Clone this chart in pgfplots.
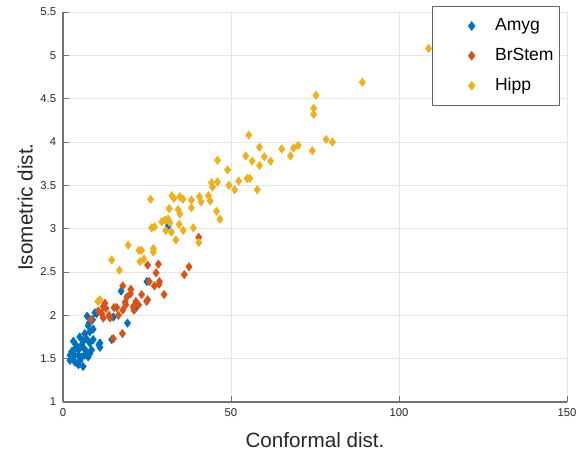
\documentclass[border=0pt]{standalone}
\usepackage{fontspec}
\setmainfont{Liberation Sans}
\usepackage{pgfplots}
\pgfplotsset{compat=1.18}

\definecolor{cAmyg}{RGB}{0,114,189}
\definecolor{cBrStem}{RGB}{217,83,25}
\definecolor{cHipp}{RGB}{237,177,32}

\begin{document}
\begin{tikzpicture}
\useasboundingbox (-32.3pt,-30.3pt) rectangle (267.8pt,206.2pt);
\begin{axis}[
  scale only axis,
  width=258.6pt, height=200pt,
  xmin=0, xmax=150, ymin=1, ymax=5.5,
  xtick={0,50,100,150},
  ytick={1,1.5,...,5.5},
  axis lines*=left,
  axis line style={black!55, line width=0.6pt},
  tick style={black!55, line width=0.5pt},
  tick align=inside,
  major tick length=3pt,
  grid=major,
  grid style={black!10, line width=0.5pt},
  /pgf/number format/assume math mode=true,
  tick label style={font=\fontsize{5.8}{7}\selectfont, text=black!85},
  xlabel={Conformal dist.},
  ylabel={Isometric dist.},
  label style={font=\fontsize{10.6}{12}\selectfont, text=black!85},
  xlabel style={at={(axis description cs:0.5,-0.097)}, anchor=center},
  ylabel style={at={(axis description cs:-0.075,0.5)}, anchor=center},
  legend style={at={(0.986,1.015)}, anchor=north east,
    draw=black!60, line width=0.6pt, fill=white,
    font=\fontsize{9}{10}\selectfont,
    inner xsep=1pt, inner ysep=4pt,
    row sep=3.5pt,
    nodes={inner sep=2pt}},
  legend cell align=left,
  legend image code/.code={%
    \path[draw=none, fill=none] (-19pt,0pt) -- (10pt,0pt);
    \draw plot coordinates {(0pt,0pt)};},
  every axis plot/.append style={only marks, mark=diamond*, mark size=2.05pt},
]
\addplot[cAmyg, mark options={draw=cAmyg, fill=cAmyg}] table {
x y
3.1 1.70
3.6 1.62
4.6 1.60
2.6 1.58
2.1 1.54
3.1 1.52
4.6 1.54
5.6 1.52
6.5 1.54
8.0 1.56
7.0 1.58
7.5 1.52
2.1 1.48
3.6 1.46
5.1 1.48
4.6 1.43
6.0 1.41
5.6 1.66
6.0 1.70
7.0 1.73
6.5 1.79
8.0 1.81
9.0 1.84
7.8 1.91
7.2 1.99
9.5 2.03
10.0 2.02
8.0 1.68
9.0 1.72
11.0 1.68
11.0 1.63
10.7 1.66
14.5 1.72
15.0 1.98
19.2 1.91
21.4 2.07
17.3 2.28
25.0 2.39
31.3 3.03
4.0 1.65
5.0 1.75
6.2 1.62
8.5 1.60
3.0 1.56
7.5 1.88
8.8 1.95
};
\addplot[cBrStem, mark options={draw=cBrStem, fill=cBrStem}] table {
x y
25.2 2.58
28.4 2.59
27.7 2.49
37.5 2.56
36.1 2.47
25.7 2.39
28.7 2.39
27.2 2.34
28.6 2.36
30.1 2.24
17.8 2.34
20.2 2.30
20.1 2.25
19.0 2.21
23.4 2.24
25.2 2.18
21.7 2.16
18.7 2.12
15.2 2.09
16.0 2.09
12.8 2.08
20.9 2.10
21.1 2.06
17.8 2.06
12.5 2.14
12.0 2.10
18.5 2.15
24.9 2.16
13.7 2.00
14.0 1.97
8.3 1.95
10.5 2.05
12.0 1.97
17.7 1.79
15.0 1.73
40.4 2.90
11.5 2.02
16.5 2.00
22.5 2.12
};
\addplot[cHipp, mark options={draw=cHipp, fill=cHipp}] table {
x y
108.8 5.08
89.1 4.69
75.3 4.54
74.6 4.39
74.6 4.32
78.3 4.03
80.2 4.00
74.2 3.90
70.0 3.96
68.6 3.93
67.7 3.84
65.1 3.92
55.3 4.08
58.5 3.94
54.4 3.84
59.9 3.83
56.3 3.78
61.8 3.78
58.5 3.73
46.0 3.79
49.0 3.68
44.2 3.53
46.0 3.54
44.5 3.48
49.4 3.50
51.1 3.45
52.3 3.55
54.8 3.58
55.6 3.58
57.8 3.45
32.4 3.38
33.0 3.35
34.8 3.37
35.7 3.34
38.2 3.33
40.6 3.37
41.1 3.31
43.3 3.38
43.8 3.32
38.2 3.24
31.6 3.23
34.3 3.22
34.8 3.17
26.1 3.34
45.7 3.20
46.7 3.11
27.2 3.02
26.4 3.01
29.4 3.08
30.4 3.10
31.3 3.11
31.8 3.07
30.6 2.98
32.3 2.96
34.6 3.05
35.8 2.98
38.8 3.01
33.6 2.87
40.4 2.84
19.4 2.81
22.6 2.75
23.4 2.75
26.9 2.77
26.9 2.73
14.5 2.64
22.9 2.62
24.1 2.65
16.8 2.52
11.0 2.18
10.4 2.16
};
\legend{Amyg,BrStem,Hipp}
\end{axis}
\end{tikzpicture}
\end{document}
